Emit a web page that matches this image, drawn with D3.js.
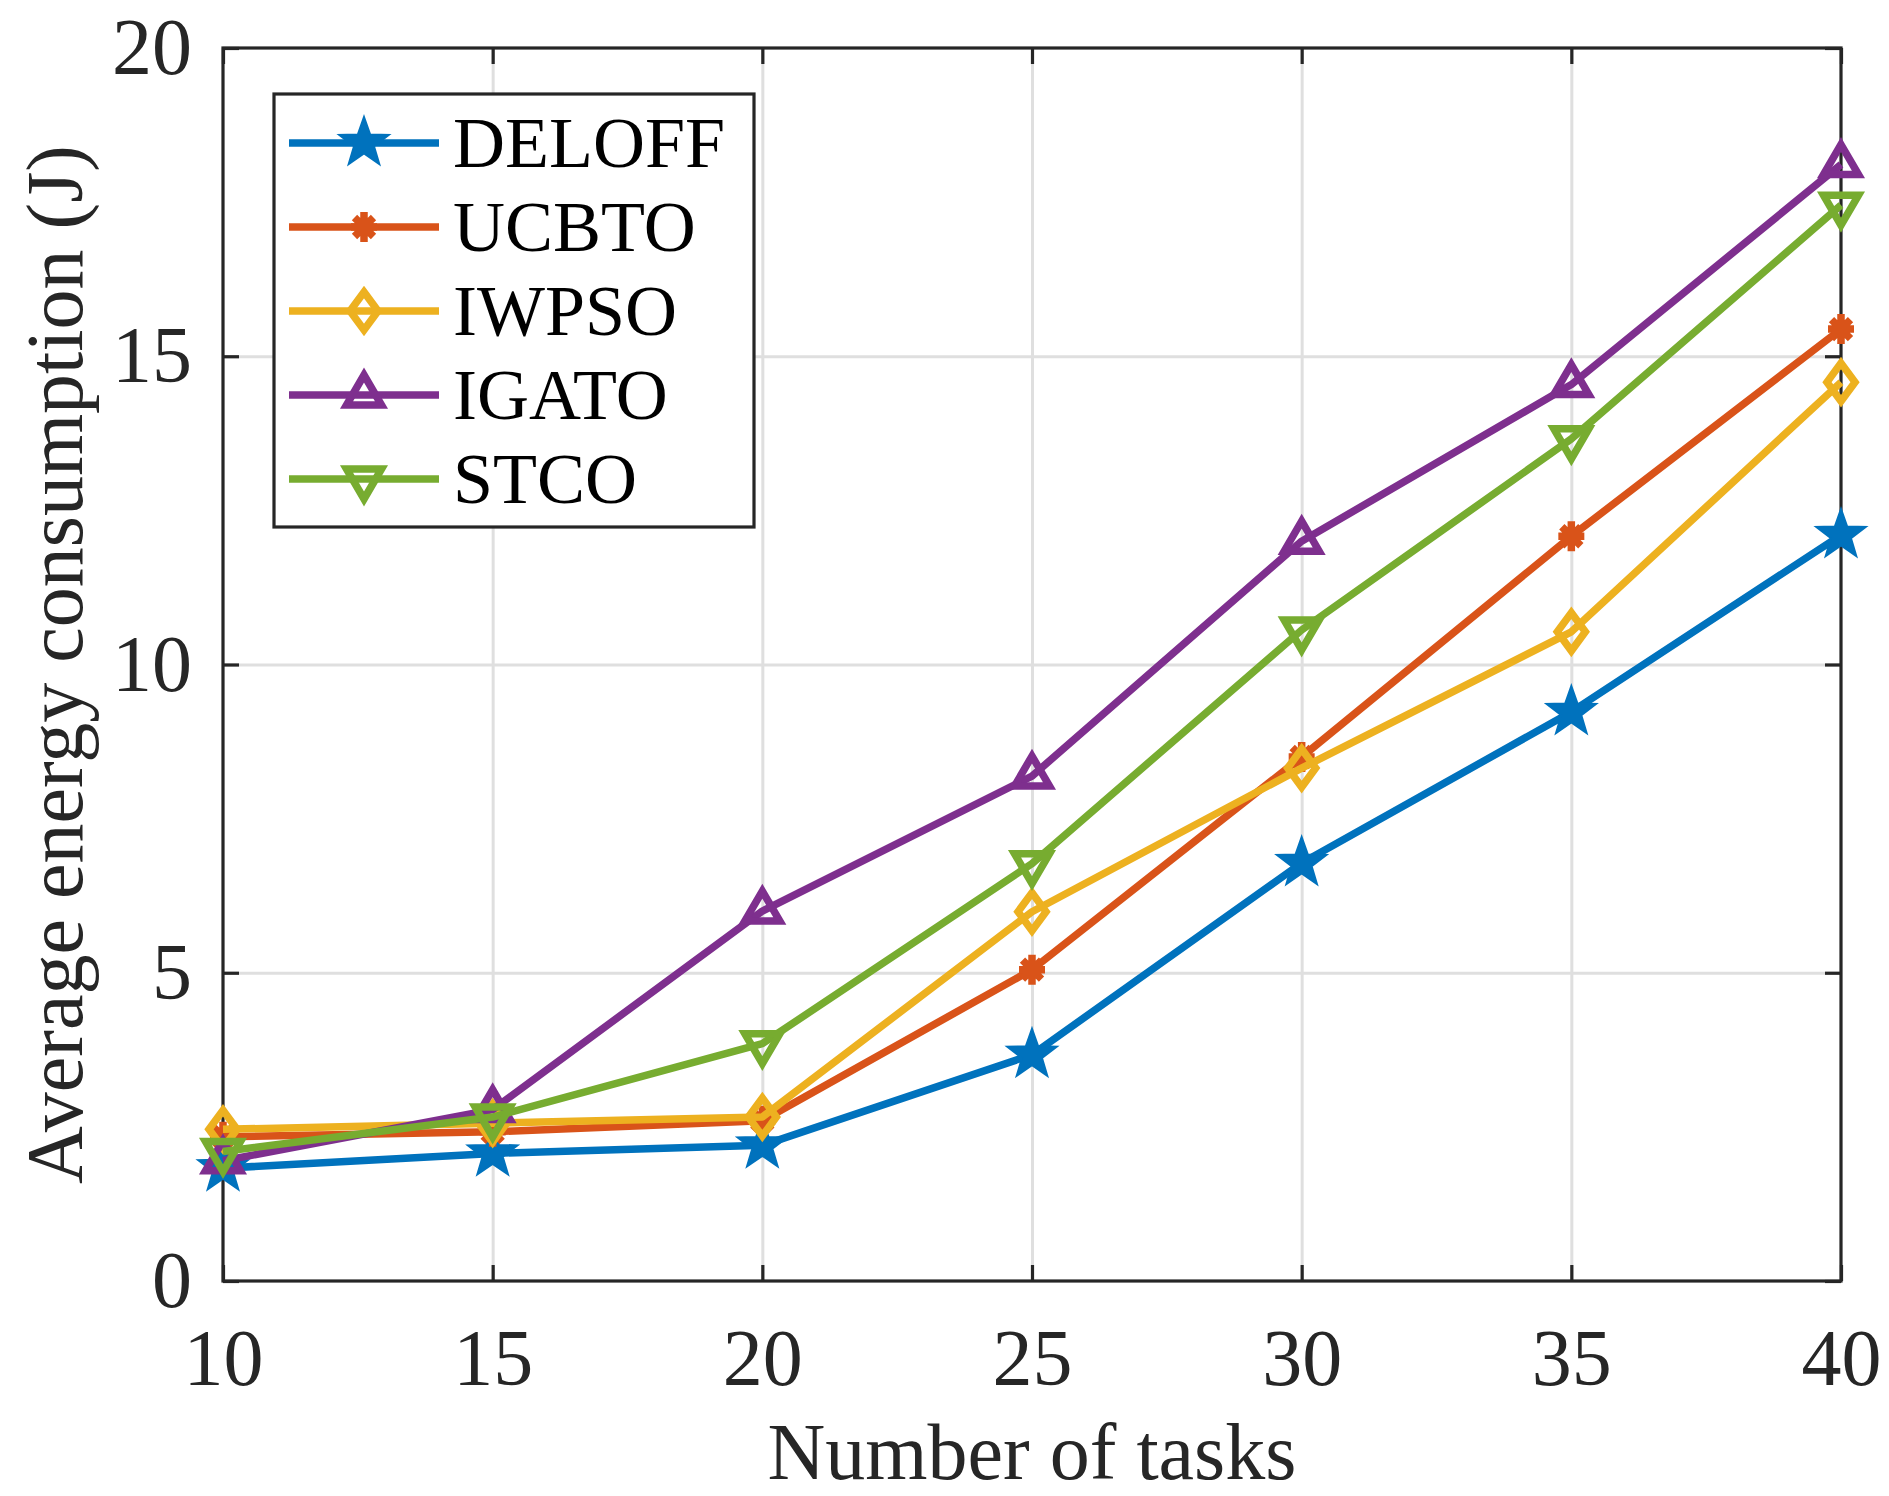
<!DOCTYPE html>
<html>
<head>
<meta charset="utf-8">
<script src="https://cdn.jsdelivr.net/npm/d3@7"></script>
<style>
body{margin:0;background:#fff}
text{font-family:'Liberation Serif','Times New Roman',serif}
</style>
</head>
<body>
<script>
var tasks  = [10,15,20,25,30,35,40]
var names  = ['DELOFF','UCBTO','IWPSO','IGATO','STCO']
var colors = ['#0072BD','#D95319','#EDB120','#7E2F8E','#77AC30']
var markers = ['star','asterisk','diamond','triangleUp','triangleDown']

var deloff = [1.83,2.07,2.20,3.67,6.78,9.23,12.10]
var ucbto  = [2.34,2.42,2.60,5.05,8.50,12.08,15.44]
var iwpso  = [2.46,2.56,2.66,5.99,8.32,10.53,14.58]
var igato  = [1.95,2.78,6.00,8.19,12.00,14.54,18.11]
var stco   = [2.10,2.66,3.85,6.77,10.56,13.66,17.45]
var series = [deloff,ucbto,iwpso,igato,stco]

var xTicks = [10,15,20,25,30,35,40]
var yTicks = [0,5,10,15,20]
var xLabel = 'Number of tasks'
var yLabel = 'Average energy consumption (J)'

var W = 1889, H = 1496
var L = 223, R = 1841, T = 48, B = 1281
var ink = '#262626'
var lw = 7.5

var svg = d3.select('body').append('svg').attr('width',W).attr('height',H)
var x = d3.scaleLinear().domain([10,40]).range([L,R])
var y = d3.scaleLinear().domain([0,20]).range([B,T])

function markerPath(type){
	if(type=='star'){
		var p = []
		for(var i=0;i<10;i++){
			var r = (i%2) ? 10.5 : 26
			var a = (-90 + 36*i) * Math.PI/180
			p.push([r*Math.cos(a), r*Math.sin(a)])
		}
		return 'M' + p.join('L') + 'Z'
	}
	// matlab puts the triangle centroid on the data point
	if(type=='asterisk')     return 'M-13,0H13M0,-15V15M-9.5,-9.5L9.5,9.5M-9.5,9.5L9.5,-9.5'
	if(type=='diamond')      return 'M0,-19L14,0L0,19L-14,0Z'
	if(type=='triangleUp')   return 'M0,-20L17.5,10L-17.5,10Z'
	if(type=='triangleDown') return 'M0,20L17.5,-10L-17.5,-10Z'
}

function drawMarker(g,type,color,cx,cy){
	var m = g.append('path').attr('d',markerPath(type))
		.attr('transform','translate('+cx+','+cy+')')
		.attr('stroke',color)
	if(type=='star') m.attr('fill',color).attr('stroke-width',2)
	else m.attr('fill','none').attr('stroke-width',lw).attr('stroke-linejoin','miter')
	return m
}

// grid
var grid = svg.append('g').attr('id','grid')
grid.append('g').attr('transform','translate(0,'+B+')')
	.call(d3.axisBottom(x).tickValues(xTicks.slice(1,-1)).tickSize(-(B-T)).tickFormat(''))
grid.append('g').attr('transform','translate('+L+',0)')
	.call(d3.axisLeft(y).tickValues(yTicks.slice(1,-1)).tickSize(-(R-L)).tickFormat(''))
grid.selectAll('.domain').remove()
grid.selectAll('line').attr('stroke','#dfdfdf').attr('stroke-width',3)

// axes box and ticks
var axes = svg.append('g').attr('id','axes')
axes.append('g').attr('transform','translate(0,'+B+')')
	.call(d3.axisBottom(x).tickValues(xTicks).tickSizeInner(-16).tickSizeOuter(0).tickPadding(47))
axes.append('g').attr('transform','translate('+L+',0)')
	.call(d3.axisLeft(y).tickValues(yTicks).tickSizeInner(-16).tickSizeOuter(0).tickPadding(31))
axes.append('g').attr('transform','translate(0,'+T+')')
	.call(d3.axisTop(x).tickValues(xTicks).tickSizeInner(-16).tickSizeOuter(0).tickFormat(''))
axes.append('g').attr('transform','translate('+R+',0)')
	.call(d3.axisRight(y).tickValues(yTicks).tickSizeInner(-16).tickSizeOuter(0).tickFormat(''))
axes.selectAll('.domain').remove()
axes.selectAll('.tick line').attr('stroke',ink).attr('stroke-width',3.2)
axes.selectAll('.tick text').attr('fill',ink).style('font-size','80px')
	.style('font-family',"'Liberation Serif','Times New Roman',serif")
axes.append('rect').attr('x',L).attr('y',T).attr('width',R-L).attr('height',B-T)
	.attr('fill','none').attr('stroke',ink).attr('stroke-width',3.2)

axes.append('text').text(xLabel)
	.attr('x',(L+R)/2).attr('y',1479)
	.attr('text-anchor','middle').attr('fill',ink).style('font-size','80px')
axes.append('text').text(yLabel)
	.attr('transform','translate(82,'+((T+B)/2)+') rotate(-90)')
	.attr('text-anchor','middle').attr('fill',ink).style('font-size','80px')

// series
var plot = svg.append('g').attr('id','series')
series.forEach(function(se,si){
	var g = plot.append('g').attr('id',names[si])
	g.append('path').datum(se)
		.attr('fill','none').attr('stroke',colors[si]).attr('stroke-width',lw)
		.attr('stroke-linejoin','round')
		.attr('d',d3.line()
			.x(function(d,i){return x(tasks[i])})
			.y(function(d){return y(d)}))
	se.forEach(function(d,i){
		drawMarker(g,markers[si],colors[si],x(tasks[i]),y(d))
	})
})

// legend
var legend = svg.append('g').attr('id','legend')
legend.append('rect').attr('x',274).attr('y',94).attr('width',480).attr('height',433)
	.attr('fill','#fff').attr('stroke',ink).attr('stroke-width',3.2)
names.forEach(function(e,i){
	var ry = 143 + 84*i
	legend.append('line').attr('x1',289).attr('x2',439).attr('y1',ry).attr('y2',ry)
		.attr('stroke',colors[i]).attr('stroke-width',lw)
	drawMarker(legend,markers[i],colors[i],364,ry)
	legend.append('text').text(e).attr('x',453).attr('y',ry+24)
		.attr('fill','#000').style('font-size','72px')
})
</script>
</body>
</html>
